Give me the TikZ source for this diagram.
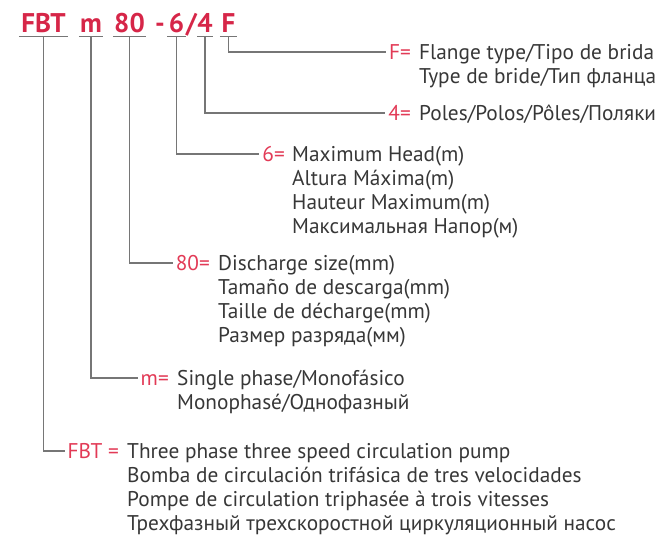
\documentclass[tikz,border=0pt]{standalone}
\usepackage{fontspec}
\setmainfont{PT Sans}
\definecolor{tred}{RGB}{214,38,72}
\definecolor{lred}{RGB}{226,58,86}
\definecolor{dtext}{RGB}{55,55,55}
\definecolor{lgray}{RGB}{118,118,118}
\begin{document}
\begin{tikzpicture}[x=1pt,y=-1pt,
  ttl/.style={font=\fontsize{27}{27}\selectfont\bfseries, text=tred, inner sep=0pt,
              text height=20pt, text depth=4pt, anchor=base},
  lab/.style={font=\fontsize{21.3}{24}\selectfont, text=lred, inner xsep=3pt, inner ysep=0pt,
              text height=14pt, text depth=0pt, anchor=base east},
  desc/.style={font=\fontsize{21.3}{24}\selectfont, text=dtext, inner sep=0pt,
               anchor=base west, align=left},
  conn/.style={draw=lgray, line width=1.2pt},
]
\useasboundingbox (0,0) rectangle (665,536);
% title
\node[ttl, minimum width=49pt] (t1) at (43.5,32) {FBT};
\node[ttl, minimum width=24pt] (t2) at (91,32) {m};
\node[ttl, minimum width=33pt] (t3) at (129.5,32) {80};
\node[ttl] (tdash) at (160,32) {-};
\node[ttl, minimum width=18pt] (t4) at (176.5,32) {6};
\node[ttl] (tslash) at (191.5,32) {/};
\node[ttl, minimum width=15pt] (t5) at (205,32) {4};
\node[ttl, minimum width=17pt] (t6) at (228.5,32) {F};
\foreach \n in {t1,t2,t3,t4,t5,t6}
  \draw[conn] (\n.south west) -- (\n.south east);
% labels (first-line baselines)
\node[lab] (l1) at (122,458) {FBT =};
\node[lab] (l2) at (172,385) {m=};
\node[lab] (l3) at (213,270) {80=};
\node[lab] (l4) at (288,161) {6=};
\node[lab] (l5) at (414,120) {4=};
\node[lab] (l6) at (414,59) {F=};
% descriptions (anchored at last-line baselines)
\node[desc] (d1) at (127,530) {Three phase three speed circulation pump\\Bomba de circulación trifásica de tres velocidades\\Pompe de circulation triphasée à trois vitesses\\Трехфазный трехскоростной циркуляционный насос};
\node[desc] (d2) at (177,409) {Single phase/Monofásico\\Monophasé/Однофазный};
\node[desc] (d3) at (218,342) {Discharge size(mm)\\Tamaño de descarga(mm)\\Taille de décharge(mm)\\Размер разряда(мм)};
\node[desc] (d4) at (292,233) {Maximum Head(m)\\Altura Máxima(m)\\Hauteur Maximum(m)\\Максимальная Напор(м)};
\node[desc] (d5) at (419,120) {Poles/Polos/Pôles/Поляки};
\node[desc] (d6) at (419,83) {Flange type/Tipo de brida\\Type de bride/Тип фланца};
% connectors
\draw[conn] (t1.south) |- (l1.west);
\draw[conn] (t2.south) |- (l2.west);
\draw[conn] (t3.south) |- (l3.west);
\draw[conn] (t4.south) |- (l4.west);
\draw[conn] (t5.south) |- (l5.west);
\draw[conn] (t6.south) |- (l6.west);
\end{tikzpicture}
\end{document}
